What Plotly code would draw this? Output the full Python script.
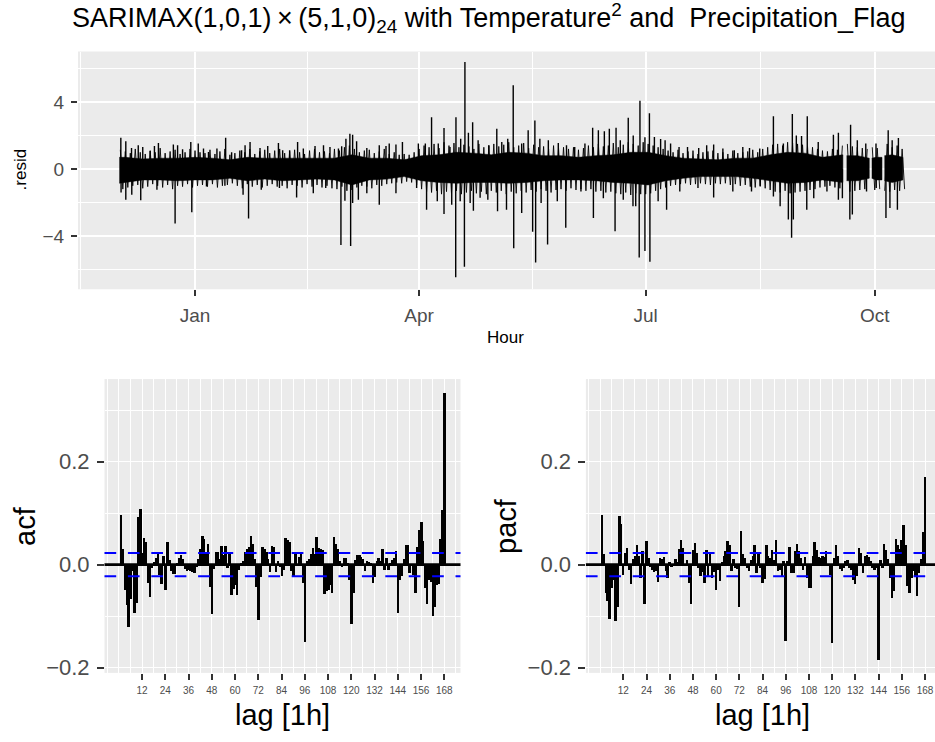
import pandas as pd
import plotly.graph_objects as go

# ---------------------------------------------------------------- data
# residual series (hourly), summarised.
# days are measured from 2023-01-01
ORIGIN = pd.Timestamp("2023-01-01")

core_day = [-30.4, -28, -21, -14, -7, 0, 7, 14, 21, 28, 35, 42, 49, 56, 63, 70, 77, 84,
            91, 98, 105, 112, 119, 126, 133, 140, 147, 154, 161, 168, 175, 182, 189, 196,
            203, 210, 217, 224, 231, 238, 245, 252, 260.2, 261.7, 266, 270.8, 271.8, 273.5,
            275.9, 276.9, 280, 284.3]
core_hi = [0.7, 0.7, 0.6, 0.65, 0.65, 0.7, 0.65, 0.55, 0.7, 0.65, 0.65, 0.65, 0.65, 0.65, 0.85,
           0.65, 0.65, 0.55, 0.8, 0.85, 1.0, 0.95, 0.85, 1.0, 0.95, 0.8, 0.8, 0.7, 0.8, 0.85,
           1.0, 1.0, 0.8, 0.65, 0.6, 0.55, 0.65, 0.65, 0.85, 1.0, 0.95, 0.7, 0.85, 0.8, 0.8,
           0.65, 0.65, 0.7, 0.7, 0.8, 0.85, 0.7]
core_lo = [-0.85, -0.8, -0.65, -0.65, -0.7, -0.65, -0.65, -0.55, -0.7, -0.6, -0.7, -0.65,
           -0.6, -0.65, -0.95, -0.65, -0.6, -0.45, -0.7, -0.8, -0.85, -0.8, -0.8, -0.85, -0.8,
           -0.7, -0.65, -0.65, -0.7, -0.8, -0.85, -0.95, -0.7, -0.55, -0.45, -0.45, -0.45,
           -0.55, -0.7, -0.85, -0.8, -0.65, -0.8, -0.7, -0.7, -0.55, -0.55, -0.65, -0.65,
           -0.7, -0.8, -0.65]
gap_start = [260.2, 270.8, 275.9]
gap_end = [261.7, 271.8, 276.9]

# edge texture of the band: high and low of every second day
tex_day = list(range(-30, 285, 2))
tex_up = [1.15, 1.05, 0.95, 1.2, 1.0, 0.9, 1.1, 1.0, 1.25, 0.95, 1.05, 1.15, 0.9, 1.0, 1.2, 1.1,
          1.0, 0.95, 1.15, 0.9, 1.05, 1.2, 0.85, 0.95, 1.1, 1.0, 1.2, 0.9, 1.05, 1.15, 0.95,
          1.1, 1.2, 0.95, 1.05, 1.15, 1.0, 0.9, 1.1, 1.2, 1.0, 1.05, 0.95, 1.2, 1.1,
          1.3, 1.4, 1.2, 1.0, 1.1, 1.15, 0.95, 1.05, 1.2, 0.9, 1.0, 0.85, 0.9, 0.85, 1.0,
          1.2, 1.4, 1.3, 1.5, 1.25, 1.6, 1.4, 1.55, 1.3, 1.45, 1.35, 1.2, 1.5, 1.3, 1.4,
          1.5, 1.35, 1.45, 1.6, 1.3, 1.4, 1.55, 1.25, 1.45, 1.3, 1.35, 1.2, 1.4, 1.25, 1.3,
          1.2, 1.3, 1.15, 1.25, 1.4, 1.3, 1.5, 1.35, 1.4, 1.55, 1.3, 1.45, 1.6, 1.5, 1.4,
          1.6, 1.5, 1.4, 1.3, 1.2, 1.1, 1.0, 1.15, 0.95, 1.05, 1.1, 0.9, 1.0, 1.05, 1.1,
          0.95, 1.0, 0.9, 1.1, 0.95, 1.0, 1.05, 1.15, 1.0, 1.2, 1.3, 1.45, 1.5, 1.4, 1.6,
          1.55, 1.5, 1.45, 1.35, 1.3, 1.2, 1.1, 1.05, 1.2, 1.15, 1.4, 1.5, 1.35, 1.3, 1.25,
          1.2, 1.3, 1.25, 1.35, 1.5, 1.3, 1.4, 1.2]
tex_dn = [-1.2, -1.1, -1.0, -0.95, -1.15, -1.05, -0.9, -1.0, -1.1, -0.95, -1.2, -1.0, -1.05,
          -0.9, -1.1, -1.0,
          -0.95, -1.05, -0.9, -1.1, -1.0, -0.95, -0.85, -1.0, -1.15, -0.9, -1.05, -0.95, -1.1,
          -1.0, -0.9,
          -1.05, -1.0, -1.15, -0.95, -1.0, -1.1, -0.9, -1.05, -0.95, -1.1, -1.0, -1.15, -1.2,
          -1.05,
          -1.3, -1.25, -1.1, -1.0, -1.05, -1.15, -0.95, -1.0, -0.9, -0.85, -0.8, -0.85, -0.75,
          -0.8, -0.95,
          -1.2, -1.35, -1.4, -1.3, -1.5, -1.35, -1.45, -1.3, -1.5, -1.4, -1.3, -1.45, -1.35,
          -1.5, -1.3,
          -1.4, -1.3, -1.5, -1.35, -1.45, -1.3, -1.4, -1.25, -1.35, -1.2, -1.3, -1.4, -1.25,
          -1.2, -1.3,
          -1.15, -1.25, -1.2, -1.3, -1.2, -1.35, -1.3, -1.4, -1.35, -1.45, -1.5, -1.4, -1.55,
          -1.45, -1.5,
          -1.5, -1.45, -1.3, -1.2, -1.1, -1.0, -0.95, -0.9, -0.85, -0.95, -0.9, -0.85, -0.9,
          -0.95, -0.85,
          -0.9, -0.85, -0.95, -0.9, -1.0, -0.95, -1.05, -1.1, -1.0, -1.15, -1.25, -1.35, -1.4,
          -1.3, -1.45,
          -1.4, -1.35, -1.3, -1.25, -1.2, -1.1, -1.05, -1.0, -1.1, -1.15, -1.3, -1.35, -1.3,
          -1.25, -1.2,
          -1.15, -1.25, -1.2, -1.3, -1.35, -1.25, -1.3, -1.2]

# isolated large excursions (day after 2023-01-01, residual)
spike_day = [-29.8, -27.8, -25.5, -22.8, -21.0, -18.0, -16.3, -14.7, -8.7, -7.0, -5.0, -1.7,
             1.3, 3.4, 5.4, 8.8, 12.3, 14.7, 18.7, 20.1, 22.1, 26.1, 29.2, 33.5, 35.2, 38.0,
             41.2, 43.5, 48.2, 51.6, 54.2, 57.6, 58.9, 60.6, 62.2, 63.3, 64.9, 69.0, 74.0,
             76.7, 78.0, 80.7, 83.3, 89.7, 92.5, 95.0, 97.7, 100.0, 102.4, 104.8, 106.7,
             108.4, 109.8, 111.5, 113.7, 118.0, 121.2, 123.2, 125.6, 127.8, 131.2, 133.8,
             136.5, 138.5, 141.9, 145.9, 149.2, 152.5, 156.6, 159.7, 162.0, 164.4, 166.4,
             169.1, 170.8, 174.0, 176.0, 178.7, 180.7, 182.5, 184.5, 187.0, 188.8, 191.0,
             194.4, 197.8, 202.3, 205.5, 208.3, 212.0, 216.6, 220.0, 222.7, 226.8, 232.3,
             236.3, 239.9, 241.5, 243.6, 245.9, 250.3, 256.4, 258.4, 263.3, 266.0, 269.4,
             273.5, 278.4, 280.0, 282.5,
             -29.7, -27.8, -25.4, -21.8, -15.3, -8.0, -1.3, 4.6, 12.0, 19.3, 21.5, 26.6,
             33.9, 40.8, 47.5, 52.5, 58.6, 60.2, 62.5, 63.3, 65.6, 69.0, 74.0, 80.7, 89.0,
             93.0, 97.3, 100.0, 103.1, 104.7, 106.5, 108.2, 110.5, 111.8, 114.5, 117.6,
             121.5, 125.1, 128.0, 131.2, 135.6, 136.8, 139.0, 141.6, 145.5, 148.9, 155.0,
             160.0, 164.0, 168.7, 172.0, 175.9, 177.0, 178.4, 180.7, 182.7, 186.0, 189.4,
             194.7, 202.0, 208.3, 216.0, 223.5, 227.0, 232.3, 235.0, 238.3, 239.6, 240.3,
             245.7, 248.5, 253.8, 258.4, 260.0, 263.0, 264.0, 269.7, 273.6, 277.5, 279.1,
             282.1]
spike_val = [1.87, 1.66, 1.26, 1.42, 1.32, 1.07, 1.38, 1.56, 1.46, 1.42, 1.18, 1.62,
             1.52, 1.22, 1.02, 1.22, 1.87, 1.0, 1.12, 1.42, 1.62, 1.26, 1.38, 1.56, 1.12, 1.12,
             1.62, 1.22, 1.38, 1.42, 1.32, 1.22, 1.36, 1.81, 2.11, 2.05, 1.66, 1.26, 1.42,
             1.38, 1.52, 1.46, 1.62, 1.52, 1.52, 3.10, 1.52, 2.45, 1.32, 3.10, 1.81,
             6.39, 2.17, 2.80, 1.72, 1.42, 2.41, 1.62, 1.81, 5.01, 1.52, 2.31,
             2.90, 1.81, 1.72, 1.56, 1.42, 1.32, 1.52, 2.47, 2.31, 2.25, 2.41,
             2.47, 1.72, 3.06, 2.0, 4.08, 1.9, 3.33, 1.91, 1.8, 1.72, 1.52,
             1.32, 1.32, 1.26, 1.42, 1.46, 1.22, 1.12, 1.32, 1.26, 1.22, 3.16,
             1.52, 3.29, 2.0, 1.97, 3.16, 1.62, 2.05, 2.17, 2.64, 1.72, 1.52,
             1.52, 2.31, 1.72, 1.85,
             -1.40, -1.83, -1.54, -1.87, -1.24, -3.25, -2.58, -1.05, -1.0, -1.54, -2.96, -1.24,
             -1.14, -1.70, -1.44, -1.14, -4.54, -1.90, -4.60, -2.03, -1.83, -1.44, -2.13, -1.44,
             -1.14, -2.43, -1.93, -2.68, -2.13, -6.47, -1.93, -5.84, -2.03, -2.49, -1.72, -1.83,
             -2.52, -2.43, -4.73, -2.62, -3.75, -5.58, -2.03, -4.50, -1.93, -3.51, -1.34,
             -2.92, -1.74, -3.71, -1.83, -2.23, -2.23, -5.29, -4.90, -5.54, -1.93, -2.43,
             -1.34, -1.14, -1.70, -1.34, -1.34, -1.05, -1.64, -2.23, -3.02, -4.10, -3.02,
             -2.43, -1.74, -1.34, -1.83, -1.74, -3.02, -2.72, -1.34, -1.14, -2.92, -2.33,
             -2.43]

# autocorrelations, lags 1..168
lags = list(range(1, 169))
acf_vals = [0.097, 0.030, -0.050, -0.078, -0.121, -0.066, -0.012, -0.093, -0.074, 0.093,
            0.107, 0.022, 0.051, 0.043, -0.035, -0.062, -0.006, 0.005, 0.012, 0.020,
            -0.020, -0.038, 0.017, -0.050, 0.044, 0.008, -0.012, -0.018, -0.019, 0.004,
            0.012, 0.018, 0.010, -0.008, -0.012, -0.010, -0.013, -0.015, -0.017, -0.004,
            0.010, 0.030, 0.056, 0.050, 0.022, 0.040, -0.044, -0.095, -0.008, 0.024,
            0.024, 0.010, 0.036, 0.018, 0.036, -0.006, 0.022, -0.059, -0.047, -0.040,
            -0.059, -0.010, 0.004, 0.006, 0.025, 0.030, 0.034, 0.055, 0.040, 0.011,
            -0.044, -0.108, -0.025, 0.035, 0.030, 0.024, 0.010, -0.015, 0.036, 0.034,
            -0.015, 0.006, -0.004, -0.023, -0.010, 0.051, 0.048, 0.044, -0.012, -0.025,
            0.022, -0.003, 0.015, 0.024, -0.035, -0.151, 0.006, 0.010, 0.020, 0.033,
            0.020, 0.053, 0.032, 0.031, 0.029, -0.058, -0.052, -0.050, -0.040, -0.055,
            0.053, 0.040, 0.030, 0.006, -0.005, 0.012, 0.013, 0.004, -0.030, -0.115,
            -0.055, 0.008, 0.019, 0.019, 0.015, 0.010, -0.013, 0.006, 0.005, 0.003,
            -0.035, -0.024, 0.006, 0.012, 0.007, 0.031, -0.010, 0.013, -0.010, 0.003,
            0.008, 0.013, 0.027, -0.094, -0.030, -0.022, 0.010, 0.038, 0.037, -0.016,
            -0.003, -0.020, -0.055, 0.035, 0.067, 0.083, 0.045, -0.045, -0.076, -0.030,
            -0.033, -0.100, -0.083, -0.040, -0.038, 0.050, 0.106, 0.332]
pacf_vals = [0.097, 0.020, -0.055, -0.070, -0.106, -0.045, -0.030, -0.109, -0.083, 0.094,
             0.078, -0.020, 0.022, 0.033, -0.010, -0.038, 0.010, 0.016, 0.037, 0.016,
             -0.026, 0.027, -0.077, 0.045, 0.013, -0.005, -0.010, -0.015, -0.013, -0.034,
             0.013, 0.010, 0.015, -0.013, -0.027, 0.005, -0.005, -0.003, 0.010, 0.005,
             0.031, 0.048, 0.033, -0.003, 0.008, -0.035, -0.077, 0.029, 0.042, 0.022,
             -0.006, -0.022, -0.015, -0.035, 0.029, -0.022, 0.020, -0.026, -0.015, -0.050,
             -0.010, -0.032, 0.005, 0.016, 0.027, 0.046, 0.038, -0.013, 0.010, -0.006,
             -0.008, -0.083, 0.065, 0.020, 0.013, -0.006, -0.013, 0.008, 0.016, 0.038,
             -0.016, 0.022, -0.006, -0.035, -0.028, 0.037, 0.016, 0.013, 0.029, 0.008,
             0.048, -0.013, -0.010, -0.022, 0.006, -0.149, 0.006, 0.035, -0.016, -0.016,
             0.027, 0.040, 0.026, 0.013, -0.010, 0.014, -0.026, -0.045, -0.045, 0.016,
             0.044, 0.029, 0.014, 0.013, 0.016, 0.014, 0.026, -0.003, -0.020, -0.153,
             0.013, 0.037, 0.016, -0.008, -0.013, -0.006, 0.006, 0.008, -0.006, -0.010,
             -0.029, -0.038, -0.022, 0.033, 0.022, -0.016, 0.016, 0.018, 0.014, 0.006,
             -0.006, -0.010, -0.006, -0.185, 0.008, -0.006, 0.040, 0.029, 0.010, -0.026,
             -0.064, -0.051, 0.050, 0.038, 0.030, 0.048, 0.076, 0.037, -0.042, -0.055,
             -0.026, -0.013, -0.022, -0.061, -0.016, 0.010, 0.063, 0.169]
ci = 0.0225

lag_ticks = list(range(12, 169, 12))
lag_minor = list(range(-6, 175, 6))
month_ticks = ["2023-01-01", "2023-04-01", "2023-07-01", "2023-10-01"]
month_labels = ["Jan", "Apr", "Jul", "Oct"]
month_minor = ["2022-11-16", "2023-02-15", "2023-05-16 12:00", "2023-08-16"]

# ---------------------------------------------------------------- helpers
W, H = 935, 742
FONT = "Liberation Sans, Arial, Helvetica, sans-serif"
GREY = "#4D4D4D"


def fx(px):
    return px / W


def fy(py):
    return 1 - py / H


def to_date(d):
    return ORIGIN + pd.Timedelta(days=float(d))


def in_gap(d):
    return any(a <= d <= b for a, b in zip(gap_start, gap_end))


# ---------------------------------------------------------------- figure
fig = go.Figure()

# core band of the residual series, split at the gaps of missing hours
bounds = [core_day[0] - 1] + gap_end
ends = gap_start + [core_day[-1] + 1]
poly_x, poly_y = [], []
for b0, b1 in zip(bounds, ends):
    idx = [i for i, d in enumerate(core_day) if b0 <= d <= b1]
    hi_d = [to_date(core_day[i]) for i in idx]
    poly_x += hi_d + hi_d[::-1] + [None]
    poly_y += [core_hi[i] for i in idx] + [core_lo[i] for i in idx][::-1] + [None]
fig.add_trace(go.Scatter(x=poly_x, y=poly_y, mode="lines", fill="toself",
                         fillcolor="black", line=dict(color="black", width=0.5),
                         hoverinfo="skip", xaxis="x", yaxis="y", showlegend=False))

# zig-zag texture: high of the day, then low one day later
zx, zy = [], []
for d, u, l in zip(tex_day, tex_up, tex_dn):
    for dd, v in ((d, u), (d + 1, l)):
        if in_gap(dd):
            zx.append(None)
            zy.append(None)
        else:
            zx.append(to_date(dd))
            zy.append(v)
fig.add_trace(go.Scatter(x=zx, y=zy, mode="lines", line=dict(color="black", width=0.9),
                         connectgaps=False, hoverinfo="skip", xaxis="x", yaxis="y",
                         showlegend=False))

sx, sy = [], []
for d, v in zip(spike_day, spike_val):
    sx += [to_date(d), to_date(d), None]
    sy += [0, v, None]
fig.add_trace(go.Scatter(x=sx, y=sy, mode="lines", line=dict(color="black", width=1.4),
                         hoverinfo="skip", xaxis="x", yaxis="y", showlegend=False))

fig.add_trace(go.Bar(x=lags, y=acf_vals, width=1.0, marker=dict(color="black", line_width=0),
                     xaxis="x2", yaxis="y2", showlegend=False))
fig.add_trace(go.Bar(x=lags, y=pacf_vals, width=1.0, marker=dict(color="black", line_width=0),
                     xaxis="x3", yaxis="y3", showlegend=False))

shapes = []
for ax in ("2", "3"):
    shapes.append(dict(type="line", xref=f"x{ax} domain", yref=f"y{ax}", x0=0, x1=1,
                       y0=0, y1=0, line=dict(color="black", width=2.6)))
    for c in (ci, -ci):
        shapes.append(dict(type="line", xref=f"x{ax} domain", yref=f"y{ax}", x0=0, x1=1,
                           y0=c, y1=c,
                           line=dict(color="#0000FF", width=2, dash="11.7px,11.7px")))

bottom_y = dict(range=[-0.210, 0.360], tickmode="array", tickvals=[-0.2, 0, 0.2],
                ticktext=["\u22120.2", "0.0", "0.2"], ticks="outside", ticklen=6.5, tickwidth=2,
                tickcolor="#333333", tickfont=dict(size=22, color=GREY, family=FONT),
                showgrid=True, gridcolor="white", gridwidth=1.3, zeroline=False,
                ticklabelstandoff=3,
                minor=dict(tickvals=[-0.1, 0.1, 0.3], showgrid=True, gridcolor="white",
                           gridwidth=0.8, ticks=""))
bottom_x = dict(tickmode="array", tickvals=lag_ticks, ticks="outside", ticklen=6.5, tickwidth=2,
                tickcolor="#333333", tickfont=dict(size=10, color=GREY, family=FONT),
                showgrid=True, gridcolor="white", gridwidth=1.3, zeroline=False,
                ticklabelstandoff=2,
                minor=dict(tickvals=lag_minor, showgrid=True, gridcolor="white",
                           gridwidth=1.0, ticks=""))

fig.update_layout(
    width=W, height=H, margin=dict(l=0, r=0, t=0, b=0, pad=0),
    paper_bgcolor="white", plot_bgcolor="#EBEBEB", bargap=0,
    font=dict(family=FONT, color="black"),
    xaxis=dict(domain=[fx(78), 1.0], type="date",
               range=[to_date(-47), to_date(297.2)],
               tickmode="array", tickvals=month_ticks, ticktext=month_labels,
               ticks="outside", ticklen=6, tickwidth=2, tickcolor="#333333",
               tickfont=dict(size=19, color=GREY, family=FONT), ticklabelstandoff=3,
               showgrid=True, gridcolor="white", gridwidth=2, zeroline=False,
               minor=dict(tickvals=month_minor, showgrid=True, gridcolor="white",
                          gridwidth=1, ticks="")),
    yaxis=dict(domain=[fy(292), fy(52)], range=[-7.18, 7.02], tickmode="array",
               tickvals=[-4, 0, 4], ticktext=["\u22124", "0", "4"], ticks="outside",
               ticklen=6, tickwidth=2, tickcolor="#333333",
               tickfont=dict(size=19, color=GREY, family=FONT), ticklabelstandoff=3,
               showgrid=True, gridcolor="white", gridwidth=2, zeroline=False,
               minor=dict(tickvals=[-6, -2, 2, 6], showgrid=True, gridcolor="white",
                          gridwidth=1, ticks="")),
    xaxis2=dict(domain=[fx(104.5), fx(460.5)], range=[-7.35, 176.35], anchor="y2", **bottom_x),
    yaxis2=dict(domain=[fy(679.3), fy(382.7)], anchor="x2", **bottom_y),
    xaxis3=dict(domain=[fx(585.9), 1.0], range=[-7.35, 173.15], anchor="y3", **bottom_x),
    yaxis3=dict(domain=[fy(679.3), fy(382.7)], anchor="x3", **bottom_y),
    shapes=shapes,
)


def label(text, px, py, size, angle=0):
    fig.add_annotation(text=text, x=fx(px), y=fy(py), xref="paper", yref="paper",
                       showarrow=False, xanchor="center", yanchor="middle", textangle=angle,
                       font=dict(size=size, color="black", family=FONT))


label("SARIMAX(1,0,1)\u2009\u00d7\u2009(5,1,0)<sub>24</sub> with Temperature<sup>2</sup>"
      " and\u00a0 Precipitation_Flag", 488, 18.5, 27)
label(".resid", 20, 171, 17, -90)
label("Hour", 506, 341, 17)
label("acf", 25, 531, 29, -90)
label("pacf", 506, 531, 29, -90)
label("lag [1h]", 282.5, 722, 29)
label("lag [1h]", 762, 722, 29)

fig.write_html("out.html",
               config={"displayModeBar": False},
               post_script="document.documentElement.style.overflow='hidden';"
                           "document.body.style.margin='0px';"
                           "document.body.style.overflow='hidden';")
